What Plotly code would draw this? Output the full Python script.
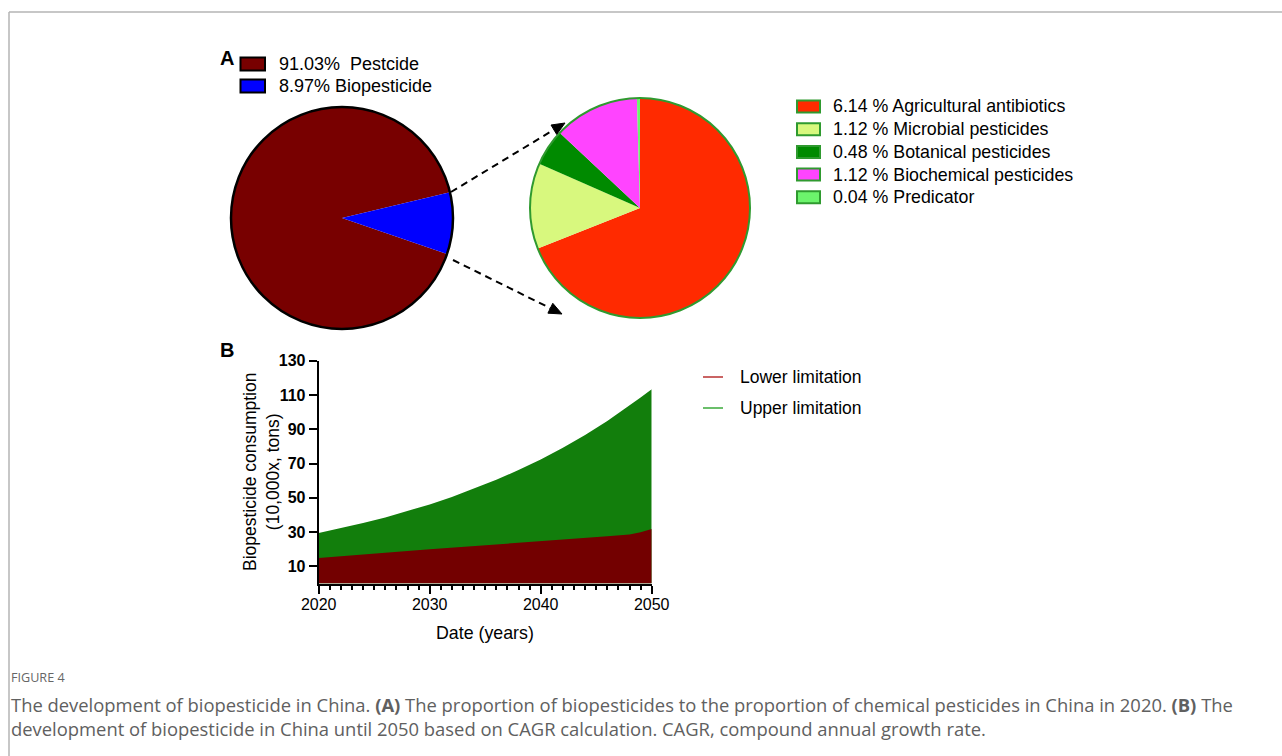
import math
import plotly.graph_objects as go

W, H = 1282, 756

# ---------------- data ----------------
main_labels = ["Pestcide", "Biopesticide"]
main_values = [91.03, 8.97]
main_colors = ["#780000", "#0000ff"]

bio_labels = ["Agricultural antibiotics", "Microbial pesticides", "Botanical pesticides",
              "Biochemical pesticides", "Predicator"]
bio_values = [6.14, 1.12, 0.48, 1.12, 0.04]
bio_colors = ["#ff2a00", "#d8f87e", "#008a00", "#ff44ff", "#6cf46c"]

years = [2020, 2022, 2024, 2026, 2028, 2030, 2032, 2034, 2036, 2038,
         2040, 2042, 2044, 2046, 2048, 2049, 2050]
lower = [15.0, 15.9, 16.9, 17.9, 19.0, 20.0, 20.9, 21.9, 22.8, 23.8,
         24.9, 25.7, 26.7, 27.6, 28.7, 30.0, 31.8]
upper = [29.5, 32.3, 35.3, 38.6, 42.2, 46.2, 50.5, 55.3, 60.5, 66.2,
         72.4, 79.2, 86.6, 94.8, 103.7, 108.5, 113.4]
series_names = ["Lower limitation", "Upper limitation"]
fill_colors = ["#730000", "#127e0c"]
legend_line_colors = ["#b83030", "#3aaa3a"]
x_ticks = [2020, 2030, 2040, 2050]
y_ticks = [10, 30, 50, 70, 90, 110, 130]

caption_label = "FIGURE 4"
caption_lines = [
    "The development of biopesticide in China. <b>(A)</b> The proportion of biopesticides to the proportion of chemical pesticides in China in 2020. <b>(B)</b> The",
    "development of biopesticide in China until 2050 based on CAGR calculation. CAGR, compound annual growth rate.",
]


def px(x):
    return x / W


def py(y):
    return 1 - y / H


FONT = "Liberation Sans, Arial, sans-serif"
CAP_FONT = "Open Sans, Noto Sans, sans-serif"

fig = go.Figure()

# ---------------- pies ----------------
c1x, c1y, r1 = 342, 218, 111
c2x, c2y, r2 = 640, 208, 110

fig.add_trace(go.Pie(
    labels=main_labels, values=main_values, sort=False, direction="clockwise",
    rotation=108.9, marker=dict(colors=main_colors, line=dict(width=0)),
    textinfo="none", hoverinfo="label+percent", showlegend=False,
    domain=dict(x=[px(c1x - r1), px(c1x + r1)], y=[py(c1y + r1), py(c1y - r1)]),
))
fig.add_trace(go.Pie(
    labels=bio_labels, values=bio_values, sort=False, direction="clockwise",
    rotation=0, marker=dict(colors=bio_colors, line=dict(width=0)),
    textinfo="none", hoverinfo="label+value", showlegend=False,
    domain=dict(x=[px(c2x - r2), px(c2x + r2)], y=[py(c2y + r2), py(c2y - r2)]),
))

# ---------------- area chart ----------------
fig.add_trace(go.Scatter(x=years, y=upper, mode="lines", fill="tozeroy",
                         fillcolor=fill_colors[1], line=dict(width=0, color=fill_colors[1]),
                         name=series_names[1], showlegend=False))
fig.add_trace(go.Scatter(x=years, y=lower, mode="lines", fill="tozeroy",
                         fillcolor=fill_colors[0], line=dict(width=0, color=fill_colors[0]),
                         name=series_names[0], showlegend=False))

fig.update_layout(
    width=W, height=H, margin=dict(l=0, r=0, t=0, b=0, autoexpand=False),
    paper_bgcolor="white", plot_bgcolor="white", showlegend=False,
    font=dict(family=FONT, color="black"),
    xaxis=dict(domain=[px(318.7), px(651.7)], range=[2020, 2050], tickvals=x_ticks,
               ticks="outside", ticklen=8, tickwidth=2, tickcolor="black",
               showline=True, linewidth=2, linecolor="black", showgrid=False,
               zeroline=False, tickfont=dict(family=FONT, size=16, color="black"),
               ticklabelstandoff=-3,
               minor=dict(ticks="outside", dtick=1, ticklen=4, tickwidth=1.5,
                          tickcolor="black", showgrid=False),
               anchor="y", fixedrange=True, automargin=False),
    yaxis=dict(domain=[py(583.6), py(360.7)], range=[0, 130], tickvals=y_ticks,
               ticks="outside", ticklen=8, tickwidth=2, tickcolor="black",
               showline=True, linewidth=2, linecolor="black", showgrid=False,
               zeroline=False,
               tickfont=dict(family=FONT, size=16, color="black", weight="bold"),
               anchor="x", fixedrange=True, automargin=False),
)

shapes = []
annotations = []

# frame lines
shapes.append(dict(type="line", xref="paper", yref="paper", x0=px(9), x1=1, y0=py(12), y1=py(12),
                   line=dict(color="#b4b4b4", width=1.5)))
shapes.append(dict(type="line", xref="paper", yref="paper", x0=px(9), x1=px(9), y0=py(12), y1=0,
                   line=dict(color="#b4b4b4", width=1.5)))

# pie outlines
shapes.append(dict(type="circle", xref="paper", yref="paper",
                   x0=px(c1x - r1), x1=px(c1x + r1), y0=py(c1y + r1), y1=py(c1y - r1),
                   line=dict(color="black", width=2.5)))
shapes.append(dict(type="circle", xref="paper", yref="paper",
                   x0=px(c2x - r2), x1=px(c2x + r2), y0=py(c2y + r2), y1=py(c2y - r2),
                   line=dict(color="#2f9a2f", width=2)))

# dashed connector arrows with triangular heads
for (x0, y0, tx, ty) in [(451, 192, 565, 123), (453, 260, 562, 314)]:
    dx, dy = tx - x0, ty - y0
    L = math.hypot(dx, dy)
    ux, uy = dx / L, dy / L
    hl, hw = 13, 5.5
    bx, by = tx - ux * hl, ty - uy * hl
    shapes.append(dict(type="line", xref="paper", yref="paper",
                       x0=px(x0), y0=py(y0), x1=px(bx), y1=py(by),
                       line=dict(color="black", width=2, dash="7px,5px")))
    p1 = (bx - uy * hw, by + ux * hw)
    p2 = (bx + uy * hw, by - ux * hw)
    path = (f"M {px(tx)} {py(ty)} L {px(p1[0])} {py(p1[1])} "
            f"L {px(p2[0])} {py(p2[1])} Z")
    shapes.append(dict(type="path", xref="paper", yref="paper", path=path,
                       fillcolor="black", line=dict(color="black", width=1)))

# panel letters
annotations.append(dict(xref="paper", yref="paper", x=px(218), y=py(58), text="<b>A</b>",
                        showarrow=False, xanchor="left", yanchor="middle",
                        font=dict(family=FONT, size=20, color="black")))
annotations.append(dict(xref="paper", yref="paper", x=px(218), y=py(350), text="<b>B</b>",
                        showarrow=False, xanchor="left", yanchor="middle",
                        font=dict(family=FONT, size=20, color="black")))

# legend A (main pie)
for i, (lab, val, col) in enumerate(zip(main_labels, main_values, main_colors)):
    yc = 64 + i * 22
    shapes.append(dict(type="rect", xref="paper", yref="paper", x0=px(240.5), x1=px(265),
                       y0=py(yc + 6.5), y1=py(yc - 6.5), fillcolor=col,
                       line=dict(color="black", width=2)))
    sep = "&nbsp; " if i == 0 else " "
    annotations.append(dict(xref="paper", yref="paper", x=px(277), y=py(yc),
                            text=f"{val:.2f}%{sep}{lab}", showarrow=False,
                            xanchor="left", yanchor="middle",
                            font=dict(family=FONT, size=18, color="black")))

# legend for composition pie
for i, (lab, val, col) in enumerate(zip(bio_labels, bio_values, bio_colors)):
    yc = 106.5 + i * 22.7
    shapes.append(dict(type="rect", xref="paper", yref="paper", x0=px(797), x1=px(820),
                       y0=py(yc + 6), y1=py(yc - 6), fillcolor=col,
                       line=dict(color="#2f9a2f", width=2)))
    annotations.append(dict(xref="paper", yref="paper", x=px(831), y=py(yc),
                            text=f"{val:.2f} % {lab}", showarrow=False,
                            xanchor="left", yanchor="middle",
                            font=dict(family=FONT, size=17.8, color="black")))

# legend for area chart
for i, (lab, col) in enumerate(zip(series_names, legend_line_colors)):
    yc = 377 + i * 31
    shapes.append(dict(type="line", xref="paper", yref="paper", x0=px(703), x1=px(723),
                       y0=py(yc), y1=py(yc), line=dict(color=col, width=1.5)))
    annotations.append(dict(xref="paper", yref="paper", x=px(737.5), y=py(yc),
                            text=lab, showarrow=False, xanchor="left", yanchor="middle",
                            font=dict(family=FONT, size=17.5, color="black")))

# axis titles
annotations.append(dict(xref="paper", yref="paper", x=px(261), y=py(472),
                        text="Biopesticide consumption<br>(10,000x, tons)", showarrow=False,
                        textangle=-90, xanchor="center", yanchor="middle",
                        font=dict(family=FONT, size=17.5, color="black")))
annotations.append(dict(xref="paper", yref="paper", x=px(485), y=py(633),
                        text="Date (years)", showarrow=False, xanchor="center", yanchor="middle",
                        font=dict(family=FONT, size=17.8, color="black")))

# caption
annotations.append(dict(xref="paper", yref="paper", x=px(10), y=py(677), text=caption_label,
                        showarrow=False, xanchor="left", yanchor="middle", borderpad=0,
                        font=dict(family=CAP_FONT, size=12.6, color="#666666")))
annotations.append(dict(xref="paper", yref="paper", x=px(10), y=py(716),
                        text="<br>".join(caption_lines), align="left",
                        showarrow=False, xanchor="left", yanchor="middle", borderpad=0,
                        font=dict(family=CAP_FONT, size=18.4, color="#606060")))

fig.update_layout(shapes=shapes, annotations=annotations)
fig.write_html(
    "out.html",
    config={"displayModeBar": False},
    post_script="document.documentElement.style.margin='0';document.body.style.margin='0';"
                "document.documentElement.style.overflow='hidden';document.body.style.overflow='hidden';",
)
